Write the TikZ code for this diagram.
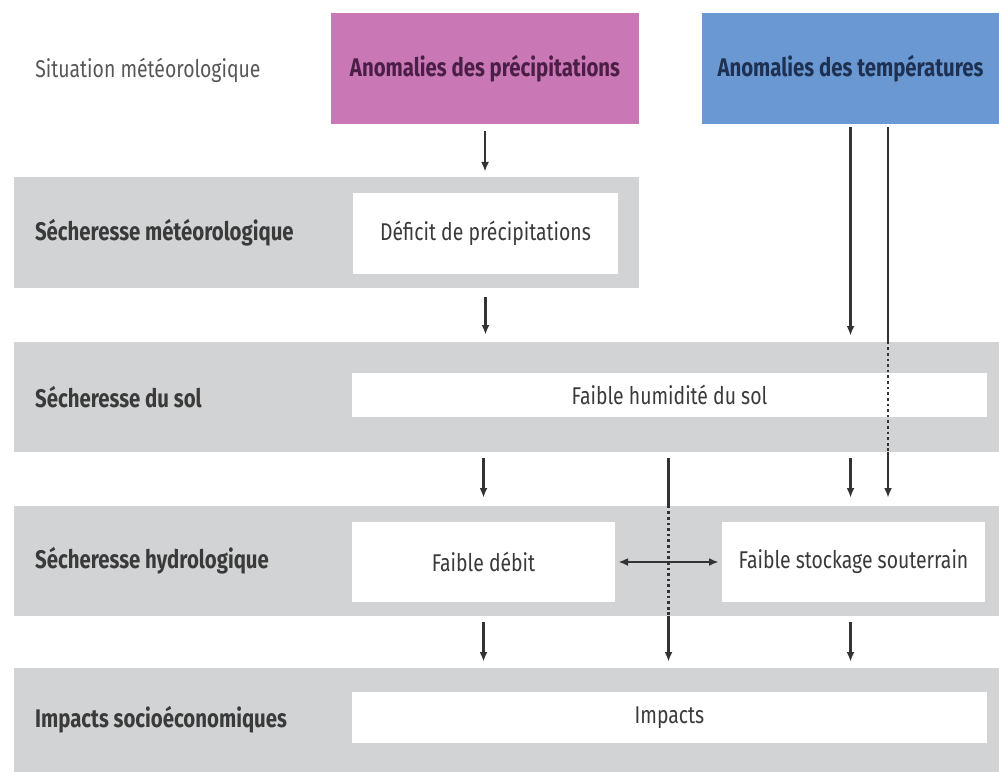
\documentclass[tikz,border=0pt]{standalone}
\usepackage{fontspec}
\setmainfont{Fira Sans}[FakeStretch=0.8]
\usepackage{xcolor}
\usepackage{tikz}
\usetikzlibrary{calc, positioning, arrows.meta}

\definecolor{bandgray}{HTML}{D1D3D5}
\definecolor{pinkbox}{HTML}{C977B5}
\definecolor{bluebox}{HTML}{6A98D2}
\definecolor{pinktext}{HTML}{4A1E45}
\definecolor{bluetext}{HTML}{1F3152}
\definecolor{labeltext}{HTML}{3A3A3A}
\definecolor{linegray}{HTML}{333333}

\begin{document}
\begin{tikzpicture}[x=0.02cm,y=-0.02cm,font=\fontsize{13.8}{16}\selectfont,
                    band node/.style={rectangle,fill=bandgray,inner sep=0pt,minimum height=2.2cm},
                    white node/.style={rectangle,fill=white,inner sep=0pt,text=labeltext},
                    top node/.style={rectangle,inner sep=0pt,minimum width=6cm,minimum height=2.22cm,font=\fontsize{14.5}{16}\selectfont\bfseries},
                    label node/.style={anchor=west,inner sep=0pt,text=labeltext,font=\fontsize{14.5}{16}\selectfont\bfseries},
                    line/.style={draw=linegray,line width=1.3pt},
                    arr/.style={line,-{Latex[length=5.5pt,width=4.5pt]}},
                    dotline/.style={line,dash pattern=on 1.5pt off 1.7pt}]

  \useasboundingbox (0,0) rectangle (999,777);

  % top row
  \node[top node,fill=pinkbox,text=pinktext,minimum width=6.16cm] (prec) at (485,68.5) {Anomalies des précipitations};
  \node[top node,fill=bluebox,text=bluetext,minimum width=5.94cm] (temp) at (850.5,68.5) {Anomalies des températures};
  \node[anchor=west,inner sep=0pt,text=labeltext!85] (sit) at (35,70) {Situation météorologique};

  % bands
  \node[band node,minimum width=12.5cm,minimum height=2.22cm] (b1) at (326.5,232.5) {};
  \node[band node,minimum width=19.7cm] (b2) at (506.5,397) {};
  \node[band node,minimum width=19.7cm] (b3) at (506.5,561) {};
  \node[band node,minimum width=19.7cm,minimum height=2.08cm] (b4) at (506.5,720) {};

  \node[label node] (l1) [right=0.42cm of b1.west] {Sécheresse météorologique};
  \node[label node] (l2) [right=0.42cm of b2.west] {Sécheresse du sol};
  \node[label node] (l3) [right=0.42cm of b3.west] {Sécheresse hydrologique};
  \node[label node] (l4) [right=0.42cm of b4.west] {Impacts socioéconomiques};

  % boxes
  \node[white node,minimum width=5.3cm,minimum height=1.62cm] (def) at (485.5,233.5) {Déficit de précipitations};
  \node[white node,minimum width=12.7cm,minimum height=0.88cm] (sol) at (669.5,395) {Faible humidité du sol};
  \node[white node,minimum width=5.26cm,minimum height=1.6cm] (deb) at (483.5,562) {Faible débit};
  \node[white node,minimum width=5.26cm,minimum height=1.6cm] (sto) at (853.5,562) {Faible stockage souterrain};
  \node[white node,minimum width=12.7cm,minimum height=1.02cm] (imp) at (669.5,717.5) {Impacts};

  \coordinate (t2) at ($(temp.south)+(37.5,0)$);
  \coordinate (m) at ($(deb.east)!0.5!(sto.west)$);

  % connectors
  \draw[arr,shorten <=0.14cm,shorten >=0.1cm] (prec.south) -- (prec.south |- b1.north);
  \draw[arr,shorten <=0.18cm,shorten >=0.14cm] (def.south |- b1.south) -- (def.south |- b2.north);
  \draw[arr,shorten <=0.06cm,shorten >=0.12cm] (temp.south) -- (temp.south |- b2.north);

  \draw[line,shorten <=0.06cm] (t2) -- (t2 |- b2.north);
  \draw[dotline] (t2 |- b2.north) -- (t2 |- b2.south);
  \draw[arr,shorten >=0.16cm] (t2 |- b2.south) -- (t2 |- b3.north);

  \draw[arr,shorten <=0.12cm,shorten >=0.16cm] (deb.north |- b2.south) -- (deb.north |- b3.north);
  \draw[arr,shorten <=0.12cm,shorten >=0.16cm] (temp.south |- b2.south) -- (temp.south |- b3.north);

  \draw[line,shorten <=0.12cm] (m |- b2.south) -- (m |- b3.north);
  \draw[dotline] (m |- b3.north) -- (m |- b3.south);
  \draw[arr,shorten >=0.12cm] (m |- b3.south) -- (m |- b4.north);

  \draw[{Latex[length=5.5pt,width=4.5pt]}-{Latex[length=5.5pt,width=4.5pt]},line,shorten <=0.06cm,shorten >=0.06cm] (deb.east) -- (sto.west);

  \draw[arr,shorten <=0.12cm,shorten >=0.12cm] (deb.south |- b3.south) -- (deb.south |- b4.north);
  \draw[arr,shorten <=0.12cm,shorten >=0.12cm] (temp.south |- b3.south) -- (temp.south |- b4.north);

\end{tikzpicture}
\end{document}
